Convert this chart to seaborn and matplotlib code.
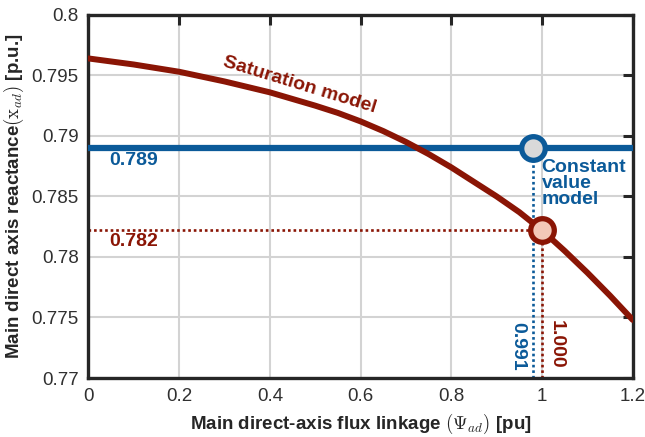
import numpy as np
import pandas as pd
import matplotlib
matplotlib.use("Agg")
import matplotlib.pyplot as plt
import seaborn as sns

# ---- data ----
flux = [0.0, 0.1, 0.2, 0.3, 0.4, 0.5, 0.55, 0.6, 0.65, 0.7, 0.75, 0.8,
        0.85, 0.9, 0.95, 1.0, 1.05, 1.1, 1.15, 1.2]
xad_sat = [0.7964, 0.7959, 0.7953, 0.7945, 0.7936, 0.7925, 0.7919, 0.7912,
           0.7904, 0.7895, 0.7885, 0.7874, 0.7862, 0.7850, 0.7837, 0.7822,
           0.7805, 0.7787, 0.7768, 0.7748]
const_x = [0.0, 1.2]
const_val = [0.789, 0.789]
op_const = (0.981, 0.789)      # constant value model operating point
op_sat = (1.000, 0.7822)       # saturation model operating point
lbl_const_x, lbl_sat_x = "0.991", "1.000"
lbl_const_y, lbl_sat_y = "0.789", "0.782"
xticks = [0, 0.2, 0.4, 0.6, 0.8, 1.0, 1.2]
xticklabels = ["0", "0.2", "0.4", "0.6", "0.8", "1", "1.2"]
yticks = [0.77, 0.775, 0.78, 0.785, 0.79, 0.795, 0.8]
yticklabels = ["0.77", "0.775", "0.78", "0.785", "0.79", "0.795", "0.8"]

RED = "#8a1505"
BLUE = "#0b5a99"

sns.set_style("white")
plt.rcParams['font.family'] = ['Liberation Sans', 'DejaVu Sans']
plt.rcParams['mathtext.fontset'] = 'cm'

fig = plt.figure(figsize=(6.45, 4.37), dpi=100)
ax = fig.add_axes([0.137, 0.135, 0.844, 0.831])

df_sat = pd.DataFrame({"flux": flux, "xad": xad_sat})
df_const = pd.DataFrame({"flux": const_x, "xad": const_val})

ax.grid(True, color="#d3d3d3", lw=1.5, zorder=0)

# dotted guide lines
dot = (0, (1, 1.1))
ax.plot([0, op_sat[0]], [op_sat[1], op_sat[1]], ls=dot, color=RED, lw=1.9, zorder=2)
ax.plot([op_sat[0], op_sat[0]], [0.77, op_sat[1]], ls=dot, color=RED, lw=1.9, zorder=2)
ax.plot([op_const[0], op_const[0]], [0.77, op_const[1]], ls=dot, color=BLUE, lw=1.9, zorder=2)

sns.lineplot(data=df_const, x="flux", y="xad", ax=ax, color=BLUE, lw=4.5, zorder=3)
sns.lineplot(data=df_sat, x="flux", y="xad", ax=ax, color=RED, lw=4.3, zorder=4)

ax.plot([op_const[0]], [op_const[1]], marker="o", ms=17, mfc="#d9d9d9", mec=BLUE, mew=3.8, zorder=6)
ax.plot([op_sat[0]], [op_sat[1]], marker="o", ms=17, mfc="#f3c8b8", mec=RED, mew=3.8, zorder=6)

# annotations
fs = 14
ax.text(0.045, 0.78795, lbl_const_y, color=BLUE, fontsize=fs, fontweight="bold", va="center", ha="left")
ax.text(0.045, 0.78125, lbl_sat_y, color=RED, fontsize=fs, fontweight="bold", va="center", ha="left")
ax.text(0.999, 0.7881, "Constant\nvalue\nmodel", color=BLUE, fontsize=fs, fontweight="bold",
        va="top", ha="left", linespacing=0.92)
ax.text(0.966, 0.7746, lbl_const_x, color=BLUE, fontsize=fs, fontweight="bold",
        rotation=-90, ha="right", va="top")
ax.text(1.012, 0.7748, lbl_sat_x, color=RED, fontsize=fs, fontweight="bold",
        rotation=-90, ha="left", va="top")
ax.text(0.465, 0.7942, "Saturation model", color=RED, fontsize=14, fontweight="bold",
        rotation=-17, ha="center", va="center", rotation_mode="anchor")

ax.set_xlim(0, 1.2)
ax.set_ylim(0.77, 0.8)
ax.set_xticks(xticks)
ax.set_xticklabels(xticklabels)
ax.set_yticks(yticks)
ax.set_yticklabels(yticklabels)
ax.tick_params(direction="in", length=7, width=2.2, labelsize=13.5, colors="#262626",
               top=True, right=True, pad=7)
for lab in ax.get_xticklabels() + ax.get_yticklabels():
    lab.set_color("#303030")
for s in ax.spines.values():
    s.set_linewidth(2.4)
    s.set_color("#262626")

ax.set_xlabel(r"Main direct-axis flux linkage $(\Psi_{ad})$ [pu]", fontsize=13.5,
              fontweight="bold", labelpad=5)
ax.set_ylabel(r"Main direct axis reactance$(\mathrm{x}_{ad})$ [p.u.]", fontsize=13.5,
              fontweight="bold", labelpad=4)

fig.savefig("out.png", dpi=100)
